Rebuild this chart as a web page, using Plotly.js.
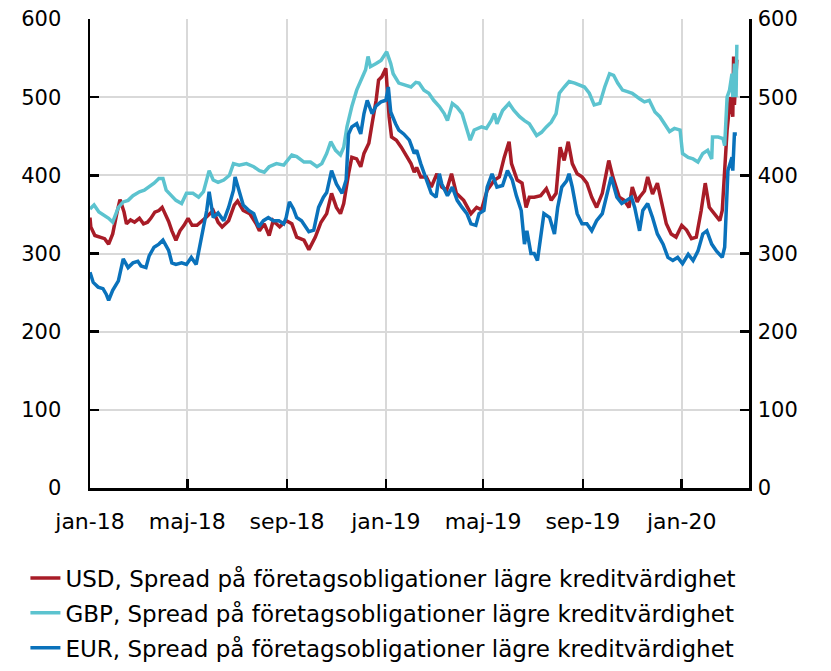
<!DOCTYPE html>
<html>
<head>
<meta charset="utf-8">
<script src="https://cdn.plot.ly/plotly-3.0.1.min.js"></script>
<style>html,body{margin:0;padding:0;background:#fff;overflow:hidden;}#chart{width:831px;height:700px;}</style>
</head>
<body>
<div id="chart"></div>
<script>
const seriesNames = [
  "USD, Spread på företagsobligationer lägre kreditvärdighet",
  "GBP, Spread på företagsobligationer lägre kreditvärdighet",
  "EUR, Spread på företagsobligationer lägre kreditvärdighet"
];
const seriesColors = ["#A81C27", "#5CC3CF", "#0A72BB"];

const tickDates = ["2018-01-01","2018-05-01","2018-09-01","2019-01-01","2019-05-01","2019-09-01","2020-01-01"];
const tickLabels = ["jan-18","maj-18","sep-18","jan-19","maj-19","sep-19","jan-20"];

const usdDates = ["2018-01-01","2018-01-02","2018-01-07","2018-01-13","2018-01-19","2018-01-24","2018-01-29","2018-02-03","2018-02-07","2018-02-12","2018-02-15","2018-02-20","2018-02-25","2018-03-03","2018-03-08","2018-03-13","2018-03-17","2018-03-22","2018-03-27","2018-03-31","2018-04-04","2018-04-08","2018-04-12","2018-04-17","2018-04-22","2018-04-27","2018-05-02","2018-05-07","2018-05-13","2018-05-18","2018-05-24","2018-06-02","2018-06-08","2018-06-13","2018-06-21","2018-06-28","2018-07-02","2018-07-09","2018-07-17","2018-07-25","2018-07-29","2018-08-04","2018-08-10","2018-08-15","2018-08-23","2018-08-31","2018-09-07","2018-09-13","2018-09-22","2018-09-28","2018-10-06","2018-10-13","2018-10-20","2018-10-26","2018-11-01","2018-11-06","2018-11-10","2018-11-16","2018-11-20","2018-11-26","2018-12-01","2018-12-05","2018-12-11","2018-12-15","2018-12-20","2018-12-23","2018-12-27","2019-01-01","2019-01-02","2019-01-05","2019-01-08","2019-01-14","2019-01-20","2019-01-25","2019-02-01","2019-02-05","2019-02-08","2019-02-13","2019-02-20","2019-02-26","2019-03-05","2019-03-11","2019-03-17","2019-03-23","2019-03-29","2019-04-07","2019-04-16","2019-04-23","2019-04-29","2019-05-06","2019-05-15","2019-05-21","2019-05-27","2019-06-02","2019-06-05","2019-06-12","2019-06-18","2019-06-23","2019-06-27","2019-07-03","2019-07-11","2019-07-18","2019-07-24","2019-07-30","2019-08-04","2019-08-09","2019-08-14","2019-08-19","2019-08-25","2019-08-31","2019-09-06","2019-09-12","2019-09-18","2019-09-25","2019-10-03","2019-10-08","2019-10-16","2019-10-22","2019-10-28","2019-11-01","2019-11-07","2019-11-10","2019-11-16","2019-11-20","2019-11-26","2019-12-02","2019-12-07","2019-12-13","2019-12-19","2019-12-25","2020-01-01","2020-01-07","2020-01-13","2020-01-19","2020-01-25","2020-01-30","2020-02-04","2020-02-10","2020-02-17","2020-02-20","2020-02-24","2020-02-26","2020-03-01","2020-03-04","2020-03-05","2020-03-06","2020-03-09"];
const usdValues = [346,334,323,321,319,312,325,351,369,353,338,343,340,345,338,340,345,353,355,359,350,341,329,317,329,336,345,336,336,340,346,355,340,334,342,362,367,355,351,338,329,338,323,342,334,342,338,321,317,305,321,340,351,377,359,351,364,402,423,421,411,428,441,466,496,522,526,537,518,475,449,445,436,428,415,404,410,398,398,385,402,385,381,402,377,368,351,359,356,381,394,398,423,443,415,394,390,359,372,372,374,383,368,377,436,419,443,415,402,398,390,372,359,377,419,398,372,368,359,385,366,372,380,398,376,390,364,338,325,321,336,330,319,321,355,390,359,351,342,355,415,458,500,475,552,490,548];

const gbpDates = ["2018-01-01","2018-01-06","2018-01-12","2018-01-18","2018-01-24","2018-01-29","2018-02-05","2018-02-11","2018-02-17","2018-02-23","2018-03-03","2018-03-09","2018-03-15","2018-03-21","2018-03-27","2018-04-01","2018-04-05","2018-04-11","2018-04-17","2018-04-24","2018-04-30","2018-05-08","2018-05-15","2018-05-21","2018-05-28","2018-06-02","2018-06-08","2018-06-15","2018-06-22","2018-06-27","2018-07-04","2018-07-13","2018-07-22","2018-07-29","2018-08-04","2018-08-10","2018-08-19","2018-08-28","2018-09-07","2018-09-13","2018-09-22","2018-09-30","2018-10-08","2018-10-14","2018-10-20","2018-10-25","2018-10-31","2018-11-06","2018-11-10","2018-11-14","2018-11-20","2018-11-26","2018-12-02","2018-12-07","2018-12-10","2018-12-13","2018-12-20","2018-12-26","2019-01-02","2019-01-07","2019-01-10","2019-01-17","2019-01-23","2019-02-01","2019-02-07","2019-02-11","2019-02-17","2019-02-23","2019-03-01","2019-03-08","2019-03-14","2019-03-18","2019-03-24","2019-03-30","2019-04-05","2019-04-11","2019-04-15","2019-04-20","2019-04-29","2019-05-05","2019-05-11","2019-05-15","2019-05-18","2019-05-25","2019-06-02","2019-06-08","2019-06-15","2019-06-21","2019-06-27","2019-07-06","2019-07-12","2019-07-18","2019-07-24","2019-07-30","2019-08-03","2019-08-09","2019-08-15","2019-08-22","2019-08-28","2019-09-03","2019-09-09","2019-09-15","2019-09-22","2019-09-28","2019-10-04","2019-10-09","2019-10-14","2019-10-20","2019-10-26","2019-11-01","2019-11-10","2019-11-16","2019-11-22","2019-11-29","2019-12-05","2019-12-11","2019-12-17","2019-12-23","2019-12-30","2020-01-02","2020-01-09","2020-01-15","2020-01-21","2020-01-27","2020-02-02","2020-02-07","2020-02-08","2020-02-15","2020-02-21","2020-02-23","2020-02-26","2020-02-29","2020-03-03","2020-03-04","2020-03-06","2020-03-08","2020-03-09"];
const gbpValues = [357,362,353,349,345,340,359,366,368,374,379,381,385,390,396,396,381,374,368,364,377,377,372,379,406,394,391,394,400,415,413,415,411,406,404,411,415,413,426,424,417,417,411,415,428,443,432,426,436,462,488,509,522,535,552,539,543,547,558,543,530,518,516,513,519,518,509,505,496,488,479,470,492,487,479,458,445,458,462,460,470,479,466,483,492,483,475,470,466,451,455,462,468,479,505,513,520,518,516,513,505,490,492,513,530,528,518,509,507,505,498,494,496,481,475,466,456,460,458,428,423,421,417,428,432,421,449,449,447,438,500,509,530,500,543,500,567];

const eurDates = ["2018-01-01","2018-01-05","2018-01-11","2018-01-17","2018-01-21","2018-01-24","2018-01-29","2018-02-05","2018-02-11","2018-02-17","2018-02-23","2018-03-01","2018-03-05","2018-03-11","2018-03-15","2018-03-21","2018-03-27","2018-04-01","2018-04-08","2018-04-12","2018-04-17","2018-04-24","2018-04-30","2018-05-06","2018-05-12","2018-05-16","2018-05-21","2018-05-25","2018-05-28","2018-06-02","2018-06-08","2018-06-15","2018-06-21","2018-06-27","2018-06-29","2018-07-04","2018-07-09","2018-07-16","2018-07-22","2018-07-28","2018-08-03","2018-08-09","2018-08-15","2018-08-22","2018-08-28","2018-08-31","2018-09-04","2018-09-09","2018-09-13","2018-09-19","2018-09-28","2018-10-04","2018-10-10","2018-10-16","2018-10-20","2018-10-26","2018-11-01","2018-11-08","2018-11-13","2018-11-16","2018-11-20","2018-11-26","2018-12-01","2018-12-05","2018-12-09","2018-12-15","2018-12-20","2018-12-26","2019-01-01","2019-01-04","2019-01-07","2019-01-13","2019-01-17","2019-01-23","2019-01-30","2019-02-05","2019-02-08","2019-02-13","2019-02-20","2019-02-26","2019-03-04","2019-03-08","2019-03-11","2019-03-18","2019-03-24","2019-03-30","2019-04-05","2019-04-11","2019-04-16","2019-04-22","2019-04-26","2019-05-02","2019-05-06","2019-05-12","2019-05-18","2019-05-25","2019-05-31","2019-06-06","2019-06-11","2019-06-17","2019-06-21","2019-06-24","2019-06-29","2019-07-03","2019-07-07","2019-07-12","2019-07-15","2019-07-22","2019-07-28","2019-08-01","2019-08-06","2019-08-12","2019-08-15","2019-08-19","2019-08-25","2019-08-31","2019-09-06","2019-09-12","2019-09-18","2019-09-25","2019-10-01","2019-10-06","2019-10-13","2019-10-19","2019-10-25","2019-10-31","2019-11-04","2019-11-10","2019-11-14","2019-11-20","2019-11-26","2019-12-02","2019-12-09","2019-12-15","2019-12-21","2019-12-27","2020-01-02","2020-01-09","2020-01-15","2020-01-21","2020-01-27","2020-02-01","2020-02-07","2020-02-13","2020-02-20","2020-02-23","2020-02-26","2020-02-27","2020-03-03","2020-03-04","2020-03-06","2020-03-09"];
const eurValues = [276,263,257,255,248,240,253,265,293,282,288,290,284,282,297,308,312,317,304,288,286,288,286,295,286,308,334,355,379,346,352,342,359,381,398,379,362,355,351,334,342,346,342,342,338,346,366,357,346,342,328,330,359,372,378,406,389,377,394,453,462,466,453,479,496,479,489,494,496,513,481,466,458,453,445,428,432,415,394,377,372,402,389,374,385,368,359,351,338,336,351,355,385,402,385,387,406,394,374,355,312,329,300,300,291,333,351,346,325,359,385,393,402,385,351,338,338,329,342,351,377,398,372,364,368,372,359,329,355,364,346,325,312,295,291,295,287,299,291,303,325,329,312,303,295,308,381,406,423,406,453,453];

const FONT = "'DejaVu Sans', 'Open Sans', sans-serif";

const traces = [
  {x: usdDates, y: usdValues, name: seriesNames[0], legendgroup: "a"},
  {x: gbpDates, y: gbpValues, name: seriesNames[1], legendgroup: "b"},
  {x: eurDates, y: eurValues, name: seriesNames[2], legendgroup: "c"}
].map((t, i) => Object.assign(t, {
  type: "scatter", mode: "lines",
  line: {color: seriesColors[i], width: 3.5},
  hoverinfo: "skip"
}));
traces.push({x: [], y: [], yaxis: "y2", type: "scatter", mode: "lines", showlegend: false, hoverinfo: "skip"});

const axisCommon = {
  showline: true, linecolor: "#000", linewidth: 2.5,
  ticks: "inside", ticklen: 9, tickwidth: 2.5, tickcolor: "#000",
  zeroline: false, tickfont: {family: FONT, size: 21, color: "#000"}
};

const layout = {
  width: 831, height: 700,
  margin: {l: 90, r: 82, t: 19, b: 212},
  paper_bgcolor: "#fff", plot_bgcolor: "#fff",
  font: {family: FONT, size: 21, color: "#000"},
  showlegend: true,
  legend: {
    orientation: "v",
    x: -0.098, xanchor: "left", y: -0.146, yanchor: "top",
    font: {family: FONT, size: 23, color: "#000"},
    tracegroupgap: 2, bgcolor: "rgba(0,0,0,0)"
  },
  xaxis: Object.assign({}, axisCommon, {
    type: "date", range: ["2018-01-01", "2020-03-24"],
    tickmode: "array", tickvals: tickDates, ticktext: tickLabels,
    showgrid: true, gridcolor: "#d9d9d9", gridwidth: 2,
    ticklabelstandoff: 12, tickangle: 0,
    tickfont: {family: FONT, size: 22, color: "#000"}
  }),
  yaxis: Object.assign({}, axisCommon, {
    range: [0, 600], tick0: 0, dtick: 100,
    showgrid: true, gridcolor: "#d9d9d9", gridwidth: 2,
    ticklabelstandoff: 22
  }),
  yaxis2: Object.assign({}, axisCommon, {
    overlaying: "y", side: "right",
    range: [0, 600], tick0: 0, dtick: 100,
    showgrid: false, ticklabelstandoff: 2
  })
};

Plotly.newPlot("chart", traces, layout, {staticPlot: true, displayModeBar: false});
</script>
</body>
</html>
